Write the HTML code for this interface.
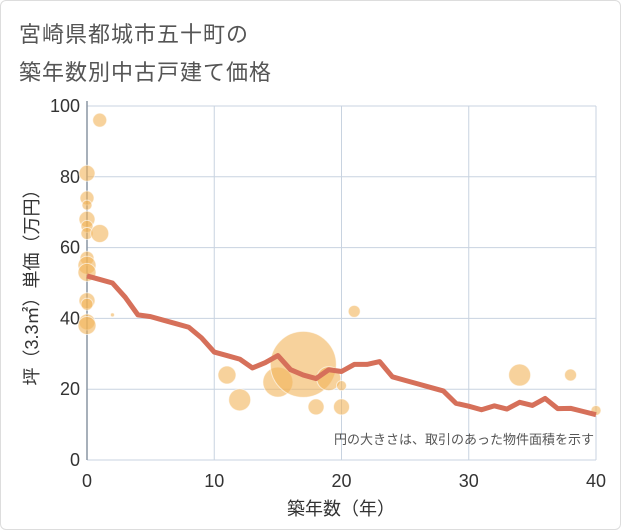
<!DOCTYPE html>
<html><head><meta charset="utf-8"><style>
body{margin:0;background:#fff;}
#wrap{position:relative;width:619px;height:528px;border:1px solid #ddd;border-radius:6px;background:#fff;font-family:"Liberation Sans","Noto Sans CJK JP",sans-serif;}
.title{position:absolute;left:18px;font-size:22px;color:#555;letter-spacing:1px;}
</style></head><body>
<div id="wrap">
<div class="title" style="top:16px">宮崎県都城市五十町の</div>
<div class="title" style="top:54px">築年数別中古戸建て価格</div>
<svg id="chart" width="621" height="530" style="position:absolute;left:-1px;top:-1px"></svg>
</div>
<script>
const xTicks=[0,10,20,30,40];
const yTicks=[0,20,40,60,80,100];
const lineYears=[0,1,2,3,4,5,6,7,8,9,10,11,12,13,14,15,16,17,18,19,20,21,22,23,24,25,26,27,28,29,30,31,32,33,34,35,36,37,38,39,40];
const lineValues=[52,51,50,46,41,40.5,39.5,38.5,37.5,34.5,30.5,29.5,28.5,26,27.5,29.5,25.5,24,23,25.5,25,27,27,27.8,23.5,22.5,21.5,20.5,19.5,16,15.2,14.2,15.3,14.4,16.3,15.4,17.4,14.5,14.6,13.7,12.8];
const bubbleYears=[0,1,0,0,0,0,0,1,0,0,0,0,0,0,0,2,11,12,15,17,18,19,20,20,21,34,38,40];
const bubbleValues=[81,96,74,72,68,66,64,64,57,55,53,45,44,39,38,41,24,17,22,27,15,23,15,21,42,24,24,14];
const bubbleRadii=[8,7,7,5,8,6,6,9,7,9,9,8,6,8,9,2,9,11,15,33,8,12,8,5,6,11,6,5];
const NS='http://www.w3.org/2000/svg';
const svg=document.getElementById('chart');
const X0=87,X1=596,Y0=460,Y1=106;
const xs=v=>X0+(X1-X0)*v/40;
const ys=v=>Y0-(Y0-Y1)*v/100;
function mk(t,a){const e=document.createElementNS(NS,t);for(const k in a)e.setAttribute(k,a[k]);svg.appendChild(e);return e;}
xTicks.forEach(t=>{
 const l=mk('line',{x1:xs(t),x2:xs(t),y1:Y1,y2:Y0,stroke:'#c8d3e0','stroke-width':1});
 
 
 const tx=mk('text',{x:xs(t),y:487,'text-anchor':'middle','font-size':18,fill:'#333'});
 tx.textContent=t;
 
 
});
yTicks.forEach(t=>{
 const l=mk('line',{x1:X0,x2:X1,y1:ys(t),y2:ys(t),stroke:'#c8d3e0','stroke-width':1});
 
 
 const tx=mk('text',{x:80,y:ys(t)+6,'text-anchor':'end','font-size':18,fill:'#333'});
 tx.textContent=t;
 
 
});
const ax=mk('line',{x1:X0,x2:X0,y1:Y1-5,y2:Y0,stroke:'#8a96a3','stroke-width':1.5});


bubbleYears.forEach((yr,i)=>{
 const c=mk('circle',{cx:xs(yr),cy:ys(bubbleValues[i]),r:bubbleRadii[i],fill:'rgba(242,180,90,0.6)',stroke:'rgba(255,255,255,0.6)','stroke-width':1});
 
 
});
const p=mk('polyline',{points:lineYears.map((y,i)=>xs(y)+','+ys(lineValues[i])).join(' '),fill:'none',stroke:'#d6705a','stroke-width':5,'stroke-linejoin':'round'});


const note=mk('text',{x:594,y:444,'text-anchor':'end','font-size':13,fill:'#555'});
note.textContent='円の大きさは、取引のあった物件面積を示す';


const xt=mk('text',{x:341,y:515,'text-anchor':'middle','font-size':18,fill:'#333'});
xt.textContent='築年数（年）';


const yt=mk('text',{x:0,y:0,'text-anchor':'middle','font-size':18,fill:'#333',transform:'translate(38,283) rotate(-90)'});
yt.textContent='坪（3.3㎡）単価（万円）';


</script>
</body></html>
